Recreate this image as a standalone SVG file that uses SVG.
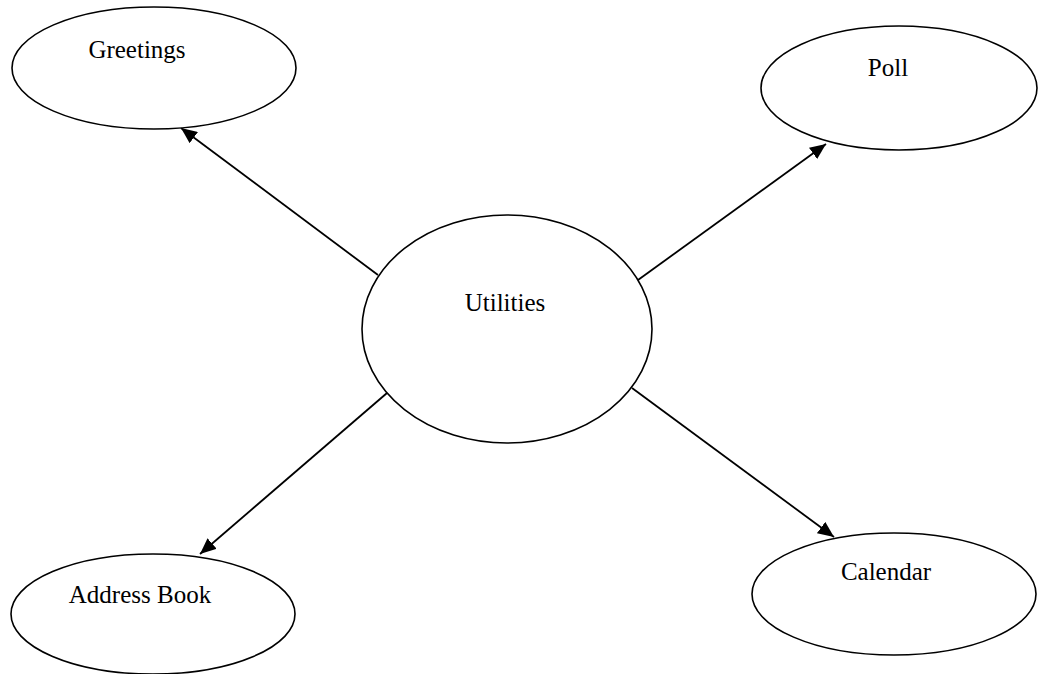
<svg xmlns="http://www.w3.org/2000/svg" width="1038" height="674" viewBox="0 0 1038 674">
  <style>
    .node ellipse { fill: #ffffff; stroke: #000000; stroke-width: 1.6; }
    .node text { font-family: "Liberation Serif", "Times New Roman", serif; font-size: 25px; fill: #000000; text-anchor: middle; }
    .edge { stroke: #000000; stroke-width: 1.8; fill: none; marker-end: url(#arrow); }
  </style>
  <defs>
    <marker id="arrow" markerUnits="userSpaceOnUse" markerWidth="18" markerHeight="14" refX="16" refY="7" orient="auto">
      <path d="M0,0 L16,7 L0,14 Z" fill="#000000"/>
    </marker>
  </defs>
  <rect width="1038" height="674" fill="#ffffff"/>

  <g id="connectors">
    <line class="edge" x1="378" y1="275" x2="181" y2="128"/>
    <line class="edge" x1="638" y1="280" x2="826" y2="144"/>
    <line class="edge" x1="387" y1="393" x2="200" y2="554"/>
    <line class="edge" x1="632" y1="388" x2="834" y2="537"/>
  </g>

  <g id="utilities" class="node">
    <ellipse cx="507" cy="329" rx="145" ry="114"/>
    <text x="505" y="311">Utilities</text>
  </g>

  <g id="greetings" class="node">
    <ellipse cx="154" cy="68" rx="142" ry="61"/>
    <text x="137" y="58">Greetings</text>
  </g>

  <g id="poll" class="node">
    <ellipse cx="899" cy="88" rx="138" ry="62"/>
    <text x="888" y="76">Poll</text>
  </g>

  <g id="address-book" class="node">
    <ellipse cx="153" cy="614" rx="142" ry="60"/>
    <text x="140" y="603">Address Book</text>
  </g>

  <g id="calendar" class="node">
    <ellipse cx="894" cy="594" rx="142" ry="61"/>
    <text x="886" y="580">Calendar</text>
  </g>
</svg>
